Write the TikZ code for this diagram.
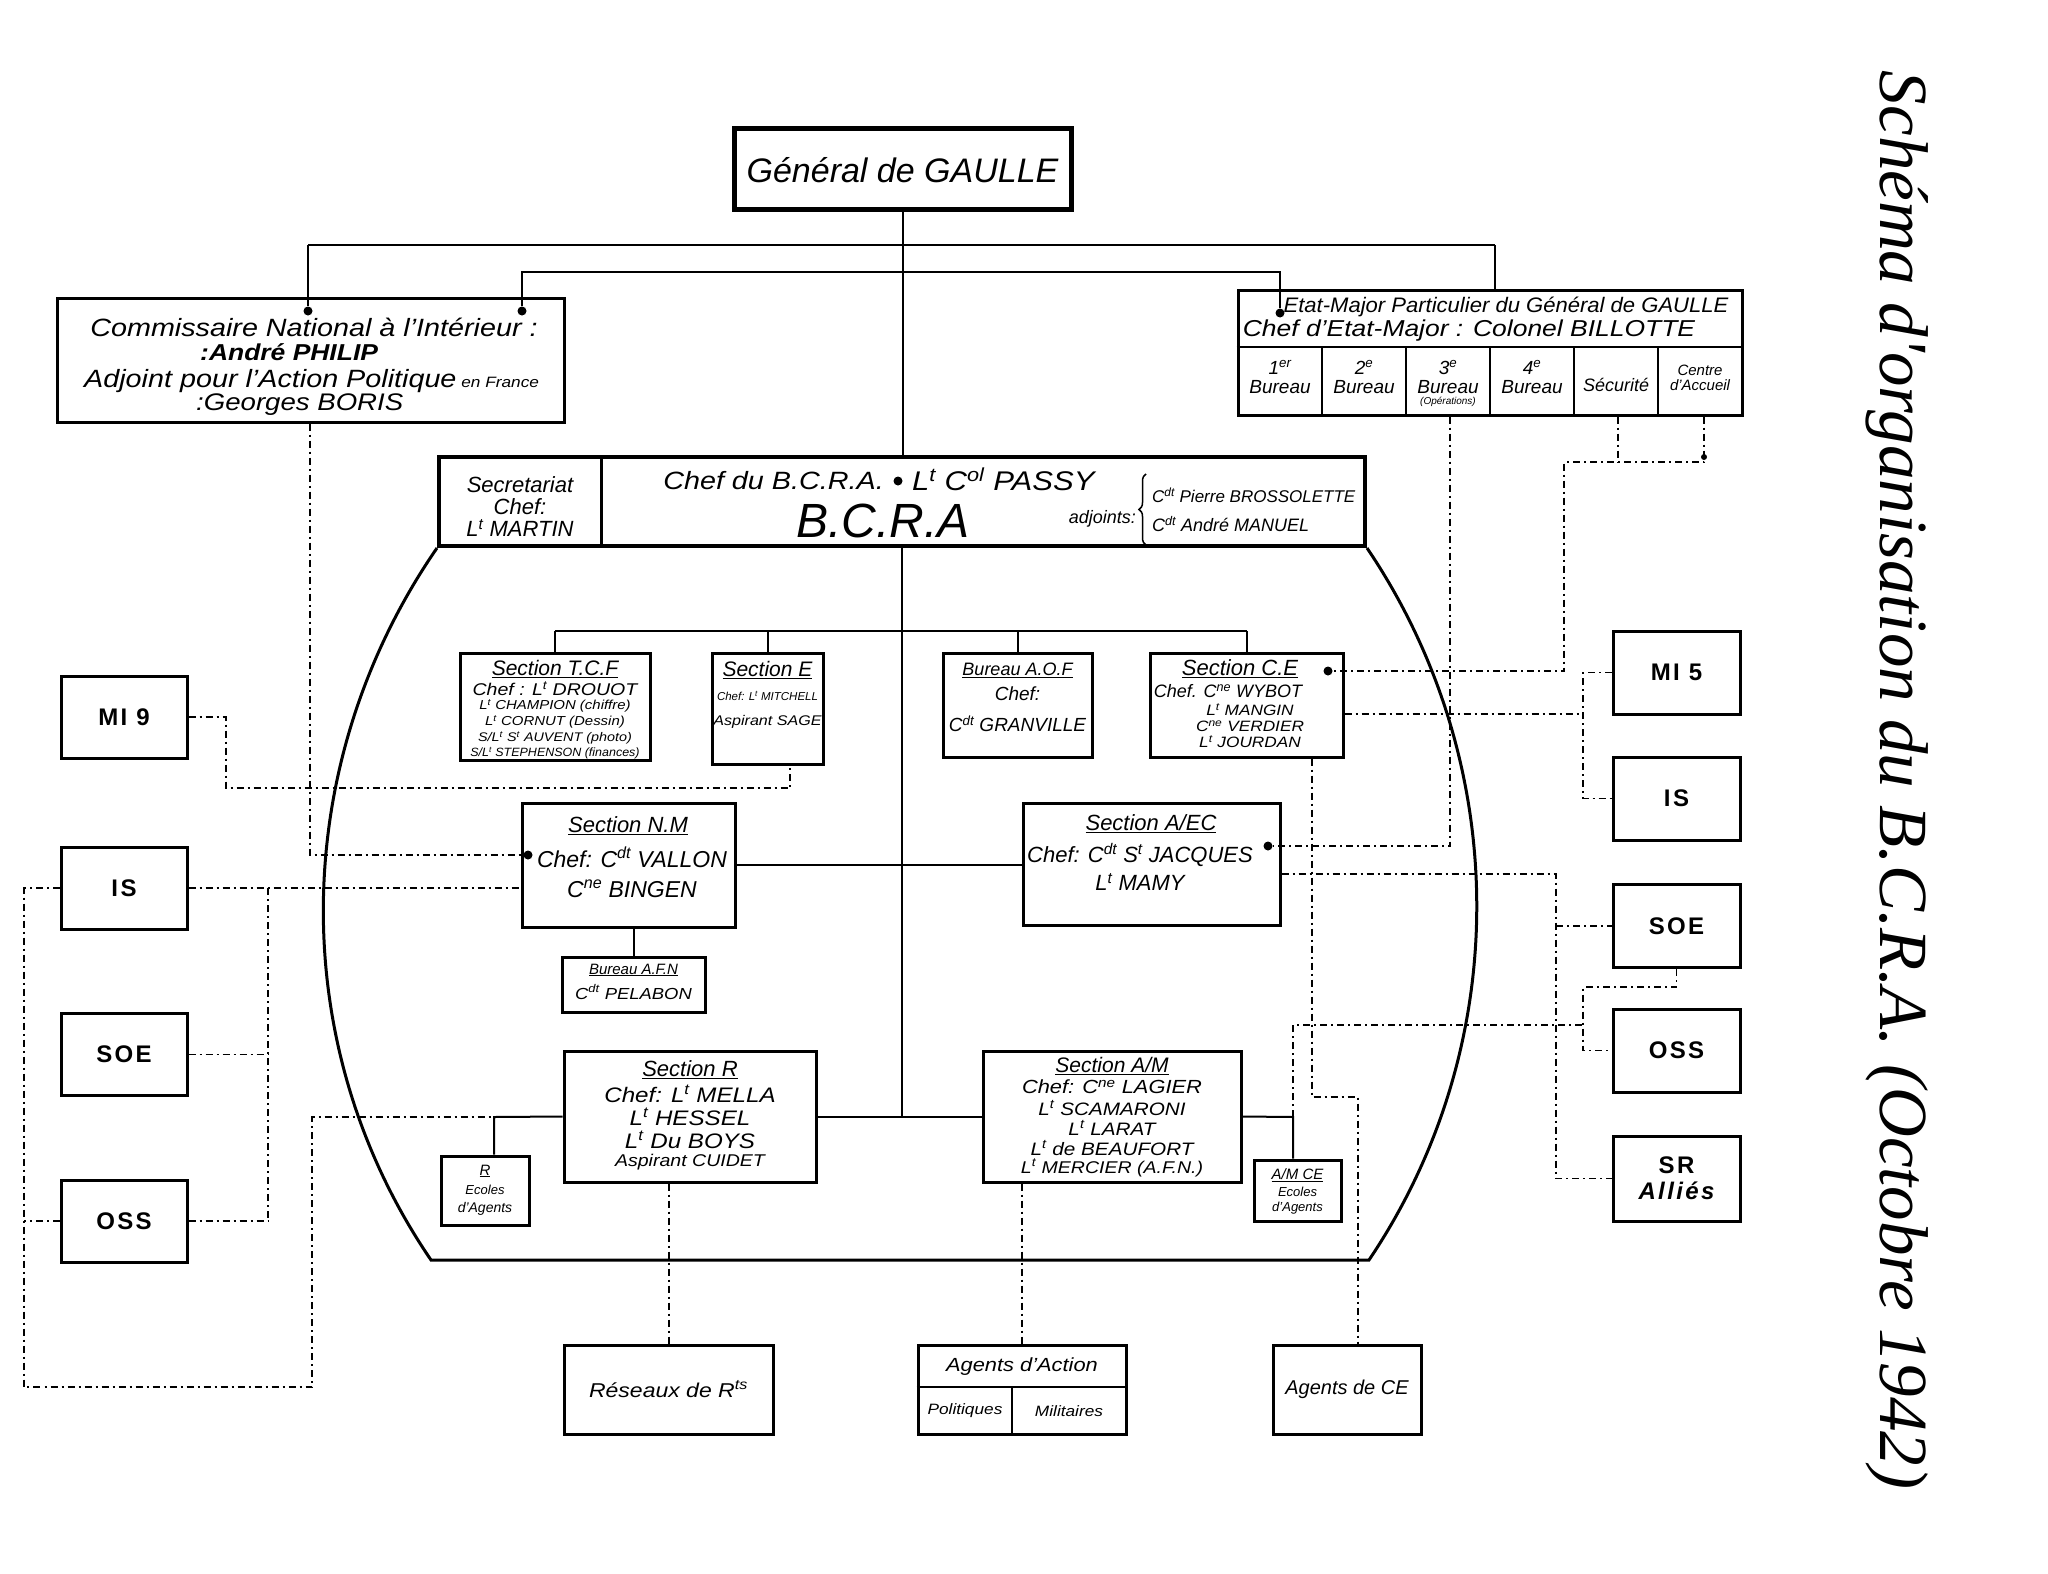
\documentclass[tikz,border=0pt]{standalone}
\usepackage{fontspec}
\setmainfont{Liberation Sans}
\newfontfamily\titlefont{Liberation Serif}
\usetikzlibrary{decorations.pathreplacing}
\newcommand\fsz[1]{\fontsize{#1}{#1}\selectfont}
\newcommand\supr[1]{\textsuperscript{#1}}
\newcommand\wide[1]{\scalebox{1.15}[1]{#1}}
\begin{document}
\begin{tikzpicture}[x=1pt,y=-1pt,
  box/.style={draw, line width=3pt, inner sep=0pt},
  hw/.style={inner sep=0pt, align=center, font={\itshape\fsz{#1}}},
  hwb/.style={inner sep=0pt, align=center, font={\itshape\bfseries\fsz{#1}}},
  ext/.style={draw, line width=3pt, inner sep=0pt, minimum width=126pt, minimum height=82pt, align=center, font={\bfseries\fsz{24}\addfontfeature{LetterSpace=10}}},
  link/.style={line width=2pt},
  dotl/.style={line width=1.8pt, dash pattern=on 7pt off 4pt on 2pt off 4pt},
  jdot/.style={circle, fill, inner sep=0pt, minimum size=9pt},
]
\useasboundingbox (0,0) rectangle (2048,1574);

% ---------- boxes ----------
\node[box, line width=5pt, minimum width=337pt, minimum height=81pt] (gaulle) at (902.5,168.5) {};
\node[hw=34] (gaulle-t) at (902.5,170) {Général de GAULLE};

\node[box, minimum width=507pt, minimum height=124pt] (comm) at (310.5,360) {};
\node[hw=25] (comm-l1) at (314,327) {\wide{Commissaire National à l'Intérieur :}};
\node[hwb=23, anchor=west] (comm-l2) at (200,352) {\wide{:André PHILIP}};
\node[hw=25, anchor=west] (comm-l3) at (84,381) {\wide{Adjoint pour l'Action Politique{\fsz{15} en France}}};
\node[hw=24, anchor=west] (comm-l4) at (196,405) {\wide{:Georges BORIS}};

\node[box, minimum width=504pt, minimum height=125pt] (etat) at (1490,352.5) {};
\draw[line width=2.5pt] (etat.west |- 0,347) -- (etat.east |- 0,347);
\foreach \xx in {1322,1406,1490,1574,1658} \draw[line width=2.5pt] (\xx,347) -- (\xx,0 |- etat.south);
\node[hw=21] (etat-l1) at (1506,307) {\scalebox{1.05}[1]{Etat-Major Particulier du Général de GAULLE}};
\node[hw=23] (etat-l2) at (1469,331) {\wide{Chef d'Etat-Major : Colonel BILLOTTE}};
\node[hw=19] (b1) at (1280,377) {1\supr{er}\\Bureau};
\node[hw=19] (b2) at (1364,377) {2\supr{e}\\Bureau};
\node[hw=19] (b3) at (1448,377) {3\supr{e}\\Bureau};
\node[hw=10] (b3o) at (1448,402) {(Opérations)};
\node[hw=19] (b4) at (1532,377) {4\supr{e}\\Bureau};
\node[hw=18] (b5) at (1616,385) {Sécurité};
\node[hw=15] (b6) at (1700,378) {Centre\\d'Accueil};

\node[box, line width=4pt, minimum width=926pt, minimum height=89pt] (bcra) at (902,501.5) {};
\draw[line width=3pt] (601,0 |- bcra.north) -- (601,0 |- bcra.south);
\node[hw=22] (sec-t) at (520,507) {Secretariat\\Chef:\\L\supr{t} MARTIN};
\node[hw=25, anchor=east] (chef-t) at (884,481) {\wide{Chef du B.C.R.A.}};
\node[jdot] (passy-dot) at (898,481) {};
\node[hw=27, anchor=west] (passy-t) at (912,479) {\wide{L\supr{t} C\supr{ol} PASSY}};
\node[hw=48] (bcra-t) at (883,521) {B.C.R.A};
\node[hw=18, anchor=east] (adj-t) at (1136,519) {adjoints:};
\draw[line width=1.5pt, decorate, decoration={brace, amplitude=7pt}] (1146,545) -- (1146,474);
\node[hw=17, anchor=west] (bros-t) at (1152,495) {C\supr{dt} Pierre BROSSOLETTE};
\node[hw=18, anchor=west] (man-t) at (1152,524) {C\supr{dt} André MANUEL};

% oval
\draw[line width=3pt] (bcra.south west) .. controls (290,761) and (283,1043) .. (431,1260) -- (1369,1260) .. controls (1515,1043) and (1511,761) .. (bcra.south east);

% row 1
\node[box, minimum width=190pt, minimum height=107pt] (tcf) at (555,706.5) {};
\node[hw=21] (tcf-1) at (555,669) {\underline{Section T.C.F}};
\node[hw=17] (tcf-2) at (555,689) {\wide{Chef : L\supr{t} DROUOT}};
\node[hw=13] (tcf-3) at (555,706) {\wide{L\supr{t} CHAMPION (chiffre)}};
\node[hw=13] (tcf-4) at (555,722) {\wide{L\supr{t} CORNUT (Dessin)}};
\node[hw=12.5] (tcf-5) at (555,738) {\wide{S/L\supr{t} S\supr{t} AUVENT (photo)}};
\node[hw=12] (tcf-6) at (555,753) {\scalebox{1.04}[1]{S/L\supr{t} STEPHENSON (finances)}};

\node[box, minimum width=111pt, minimum height=111pt] (secE) at (767.5,708.5) {};
\node[hw=21] (secE-1) at (767.5,670) {\underline{Section E}};
\node[hw=11.5] (secE-2) at (767.5,696) {Chef: L\supr{t} MITCHELL};
\node[hw=14] (secE-3) at (767.5,722) {\wide{Aspirant SAGE}};

\node[box, minimum width=149pt, minimum height=104pt] (aof) at (1017.5,705) {};
\node[hw=18] (aof-1) at (1017.5,670) {\underline{Bureau A.O.F}};
\node[hw=19] (aof-2) at (1017.5,694) {Chef:};
\node[hw=19] (aof-3) at (1017.5,724) {C\supr{dt} GRANVILLE};

\node[box, minimum width=193pt, minimum height=104pt] (ce) at (1246.5,705) {};
\node[hw=22] (ce-1) at (1240,669) {\underline{Section C.E}};
\node[hw=18] (ce-2) at (1228,691) {Chef. C\supr{ne} WYBOT};
\node[hw=15] (ce-3) at (1250,710) {\wide{L\supr{t} MANGIN}};
\node[hw=15] (ce-4) at (1250,726) {\wide{C\supr{ne} VERDIER}};
\node[hw=15] (ce-5) at (1250,742) {\wide{L\supr{t} JOURDAN}};

% row 2
\node[box, minimum width=213pt, minimum height=124pt] (nm) at (628.5,865) {};
\node[hw=22] (nm-1) at (628,826) {\underline{Section N.M}};
\node[hw=23] (nm-2) at (632,857) {Chef: C\supr{dt} VALLON};
\node[hw=23] (nm-3) at (632,889) {C\supr{ne} BINGEN};

\node[box, minimum width=143pt, minimum height=55pt] (afn) at (633.5,984.5) {};
\node[hw=15] (afn-1) at (633.5,970) {\underline{Bureau A.F.N}};
\node[hw=16] (afn-2) at (633.5,992) {\wide{C\supr{dt} PELABON}};

\node[box, minimum width=257pt, minimum height=122pt] (aec) at (1151.5,864) {};
\node[hw=22] (aec-1) at (1151,824) {\underline{Section A/EC}};
\node[hw=22] (aec-2) at (1140,855) {Chef: C\supr{dt} S\supr{t} JACQUES};
\node[hw=22] (aec-3) at (1140,882) {L\supr{t} MAMY};

% row 3
\node[box, minimum width=252pt, minimum height=131pt] (secR) at (690,1116.5) {};
\node[hw=22] (secR-1) at (690,1070) {\underline{Section R}};
\node[hw=21] (secR-2) at (690,1094) {\wide{Chef: L\supr{t} MELLA}};
\node[hw=21] (secR-3) at (690,1117) {\wide{L\supr{t} HESSEL}};
\node[hw=21] (secR-4) at (690,1140) {\wide{L\supr{t} Du BOYS}};
\node[hw=17] (secR-5) at (690,1162) {\wide{Aspirant CUIDET}};

\node[box, minimum width=258pt, minimum height=131pt] (am) at (1112,1116.5) {};
\node[hw=21] (am-1) at (1112,1066) {\underline{Section A/M}};
\node[hw=19] (am-2) at (1112,1087) {\wide{Chef: C\supr{ne} LAGIER}};
\node[hw=18] (am-3) at (1112,1108) {\wide{L\supr{t} SCAMARONI}};
\node[hw=18] (am-4) at (1112,1128) {\wide{L\supr{t} LARAT}};
\node[hw=18] (am-5) at (1112,1148) {\wide{L\supr{t} de BEAUFORT}};
\node[hw=17] (am-6) at (1112,1168) {\wide{L\supr{t} MERCIER (A.F.N.)}};

\node[box, minimum width=88pt, minimum height=69pt] (rec) at (485,1190.5) {};
\node[hw=15] (rec-1) at (485,1171) {\underline{R}};
\node[hw=13] (rec-2) at (485,1190) {Ecoles};
\node[hw=14] (rec-3) at (485,1209) {d'Agents};

\node[box, minimum width=87pt, minimum height=61pt] (amce) at (1297.5,1190.5) {};
\node[hw=15] (amce-1) at (1297.5,1175) {\underline{A/M CE}};
\node[hw=13] (amce-2) at (1297.5,1192) {Ecoles};
\node[hw=13] (amce-3) at (1297.5,1208) {d'Agents};

% bottom
\node[box, minimum width=209pt, minimum height=89pt] (res) at (668.5,1389.5) {};
\node[hw=20] (res-t) at (668.5,1389) {\wide{Réseaux de R\supr{ts}}};
\node[box, minimum width=208pt, minimum height=89pt] (aact) at (1022,1389.5) {};
\draw[line width=2.5pt] (aact.west |- 0,1387) -- (aact.east |- 0,1387);
\draw[line width=2.5pt] (1012,1387) -- (1012,0 |- aact.south);
\node[hw=19] (aact-1) at (1022,1367) {\wide{Agents d'Action}};
\node[hw=15] (aact-2) at (965,1411) {\wide{Politiques}};
\node[hw=15] (aact-3) at (1069,1411) {\wide{Militaires}};
\node[box, minimum width=148pt, minimum height=89pt] (ace) at (1347,1389.5) {};
\node[hw=20] (ace-t) at (1347,1389) {Agents de CE};

% external services left
\node[ext] (mi9l) at (124,717) {MI 9};
\node[ext] (isl) at (124,888) {IS};
\node[ext] (soel) at (124,1054.5) {SOE};
\node[ext] (ossl) at (124,1221) {OSS};
% external services right
\node[ext, minimum width=127pt, minimum height=83pt] (mi5r) at (1676.5,672.5) {MI 5};
\node[ext, minimum width=127pt, minimum height=83pt] (isr) at (1676.5,798.5) {IS};
\node[ext, minimum width=127pt, minimum height=83pt] (soer) at (1676.5,926) {SOE};
\node[ext, minimum width=127pt, minimum height=83pt] (ossr) at (1676.5,1050.5) {OSS};
\node[ext, minimum width=127pt, minimum height=85pt] (srr) at (1676.5,1178.5) {SR\\[2pt]{\itshape Alliés}};

% title
\node[rotate=-90, inner sep=0pt, font={\titlefont\itshape\fsz{69}}] (title) at (1897,780) {Schéma d'organisation du B.C.R.A. (Octobre 1942)};

% ---------- junction dots & coordinates ----------
\node[jdot] (commdot1) at (308,311) {};
\node[jdot] (commdot2) at (522,311) {};
\node[jdot] (etatdot) at (1280,313) {};
\node[jdot] (cedot) at (1328,671) {};
\node[jdot] (aecdot) at (1268,846) {};
\node[jdot] (nmdot) at (528,855) {};
\node[jdot, minimum size=6pt] (centdot) at (1704,457) {};
\coordinate (gl) at (308,245);
\coordinate (gr) at (1495,245);
\coordinate (recj) at (494,1117);
\coordinate (amj) at (1293,1117);

% ---------- solid connectors ----------
\draw[link] (gaulle.south) -- (gaulle.south |- bcra.north);
\draw[link] (gl) -- (gr);
\draw[link] (gl) -- (commdot1);
\draw[link] (gr) -- (gr |- etat.north);
\draw[link] (commdot2) -- (522,272) -- (1280,272) -- (etatdot);
\draw[link] (bcra.south) -- (902,0 |- secR.east);
\draw[link] (tcf.north |- 0,631) -- (ce.north |- 0,631);
\foreach \nn in {tcf,secE,aof,ce} \draw[link] (\nn.north) -- (\nn.north |- 0,631);
\draw[link] (nm.east) -- (nm.east -| aec.west);
\draw[link] (afn.north) -- (afn.north |- nm.south);
\draw[link] (secR.east) -- (am.west);
\draw[link] (secR.west) -- (recj) -- (recj |- rec.north);
\draw[link] (am.east) -- (amj) -- (amj |- amce.north);

% ---------- dotted connectors, left ----------
\draw[dotl] (mi9l.east) -- (226,0 |- mi9l.east) -- (226,788) -- (790,788) -- (790,0 |- secE.south);
\draw[dotl] (310,0 |- comm.south) -- (310,855) -- (nmdot);
\draw[dotl] (isl.east) -- (isl.east -| nm.west);
\draw[dotl] (268,0 |- isl.east) -- (268,0 |- ossl.east);
\draw[dotl] (soel.east) -- (268,0 |- soel.east);
\draw[dotl] (ossl.east) -- (268,0 |- ossl.east);
\draw[dotl] (isl.west) -- (24,0 |- isl.west) -- (24,1387) -- (312,1387) -- (312,1117) -- (recj);
\draw[dotl] (ossl.west) -- (24,0 |- ossl.west);

% ---------- dotted connectors, right ----------
\draw[dotl] (1450,0 |- etat.south) -- (1450,846) -- (aecdot);
\draw[dotl] (1618,0 |- etat.south) -- (1618,462);
\draw[dotl] (1704,0 |- etat.south) -- (1704,462) -- (1564,462) -- (1564,671) -- (cedot);
\draw[dotl] (ce.east |- 0,714) -- (1583,714);
\draw[dotl] (mi5r.west) -- (1583,0 |- mi5r.west) -- (1583,0 |- isr.west) -- (isr.west);
\draw[dotl] (aec.east |- 0,874) -- (1556,874) -- (1556,0 |- srr.west) -- (srr.west);
\draw[dotl] (1556,0 |- soer.west) -- (soer.west);
\draw[dotl] (soer.south) -- (soer.south |- 0,987) -- (1583,987) -- (1583,0 |- ossr.west) -- (ossr.west);
\draw[dotl] (amj) -- (1293,1025) -- (1583,1025);
\draw[dotl] (1312,0 |- ce.south) -- (1312,1097) -- (1358,1097) -- (1358,0 |- ace.north);

% ---------- dotted connectors, bottom ----------
\draw[dotl] (669,0 |- secR.south) -- (669,0 |- res.north);
\draw[dotl] (1022,0 |- am.south) -- (aact.north);
\end{tikzpicture}
\end{document}
